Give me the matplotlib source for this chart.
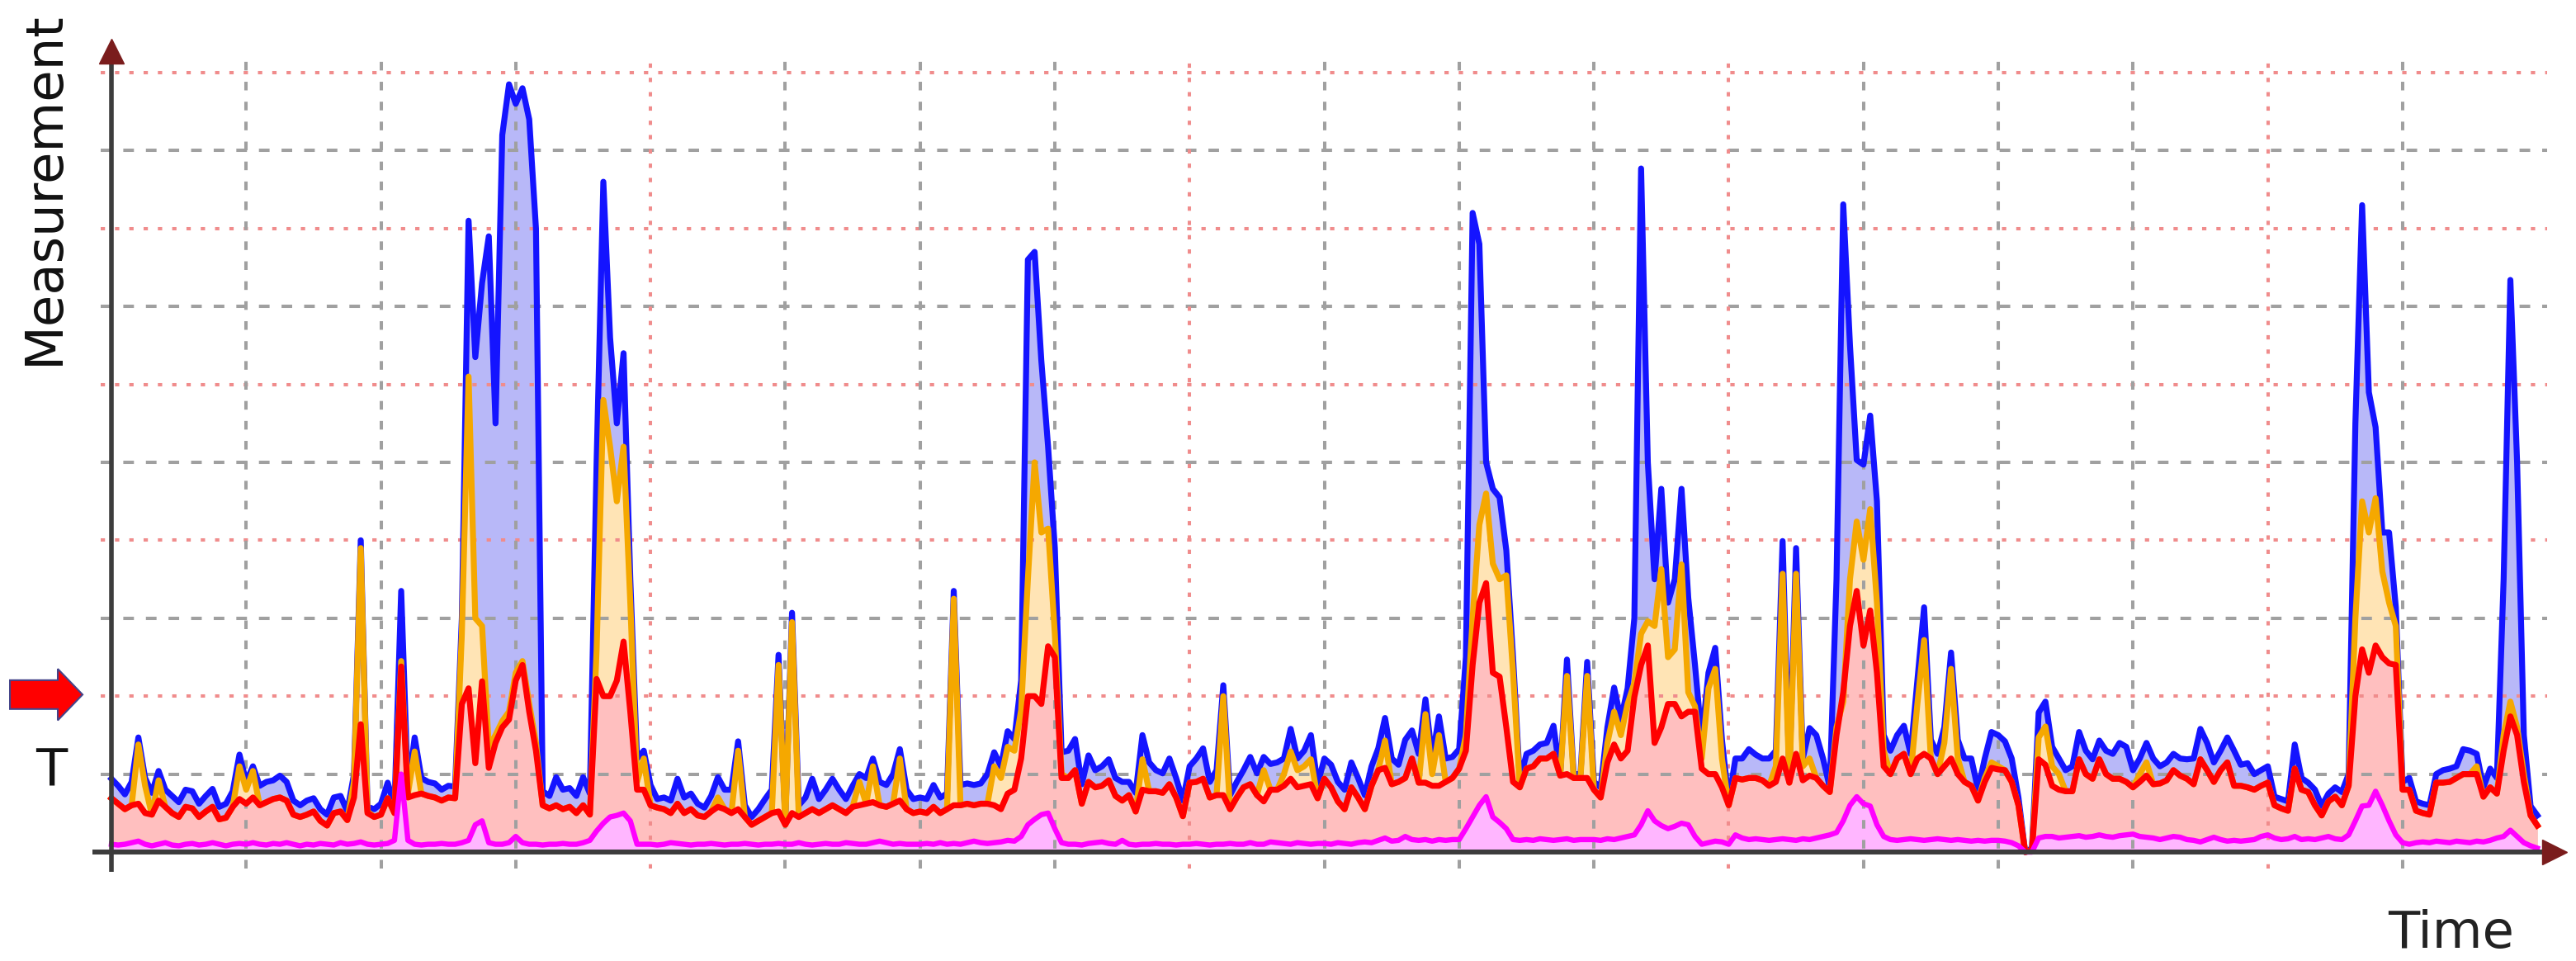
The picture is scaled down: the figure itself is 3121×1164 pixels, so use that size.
import matplotlib
matplotlib.use("Agg")
import matplotlib.pyplot as plt
import numpy as np
from matplotlib.patches import FancyArrow

# Measurement series sampled every 0.5 time units, t = 0 .. 180
blue = [
    0.94, 0.85, 0.74, 0.90, 1.47, 0.95, 0.76, 1.04, 0.80, 0.72, 0.64, 0.80, 0.78, 0.62, 0.72, 0.81, 0.58, 0.62, 0.78, 1.25,
    0.90, 1.10, 0.85, 0.90, 0.92, 0.98, 0.90, 0.66, 0.60, 0.66, 0.69, 0.55, 0.48, 0.70, 0.72, 0.52, 1.00, 4.00, 0.58, 0.55,
    0.62, 0.89, 0.59, 3.35, 0.80, 1.47, 0.95, 0.90, 0.88, 0.80, 0.85, 0.84, 3.00, 8.10, 6.35, 7.30, 7.90, 5.50, 9.20, 9.85,
    9.60, 9.80, 9.40, 8.00, 0.78, 0.72, 0.96, 0.80, 0.82, 0.72, 0.96, 0.75, 5.00, 8.60, 6.60, 5.50, 6.40, 3.50, 1.20, 1.30,
    0.86, 0.68, 0.70, 0.66, 0.94, 0.70, 0.75, 0.62, 0.57, 0.72, 0.96, 0.80, 0.80, 1.42, 0.60, 0.45, 0.55, 0.68, 0.80, 2.53,
    0.40, 3.07, 0.60, 0.70, 0.94, 0.68, 0.80, 0.94, 0.80, 0.68, 0.85, 1.00, 0.95, 1.20, 0.90, 0.86, 1.00, 1.32, 0.80, 0.68,
    0.70, 0.68, 0.86, 0.70, 0.75, 3.35, 0.86, 0.88, 0.86, 0.88, 1.00, 1.28, 1.10, 1.55, 1.45, 2.20, 7.60, 7.70, 6.30, 5.20,
    3.90, 1.28, 1.30, 1.45, 0.87, 1.24, 1.05, 1.10, 1.19, 0.95, 0.90, 0.90, 0.76, 1.50, 1.15, 1.05, 1.01, 1.20, 0.95, 0.66,
    1.10, 1.20, 1.33, 0.90, 1.05, 2.14, 0.73, 0.90, 1.05, 1.22, 1.01, 1.22, 1.13, 1.15, 1.20, 1.58, 1.20, 1.30, 1.50, 0.87,
    1.20, 1.12, 0.90, 0.80, 1.15, 0.95, 0.73, 1.10, 1.33, 1.72, 1.20, 1.12, 1.44, 1.56, 1.26, 1.96, 1.20, 1.74, 1.20, 1.22,
    1.32, 2.50, 8.20, 7.80, 5.00, 4.66, 4.55, 3.87, 2.50, 0.92, 1.26, 1.30, 1.38, 1.40, 1.62, 1.00, 2.47, 1.00, 1.00, 2.44,
    0.90, 0.83, 1.60, 2.11, 1.70, 2.10, 3.00, 8.77, 5.00, 3.50, 4.66, 3.20, 3.50, 4.66, 3.26, 2.40, 1.44, 2.30, 2.62, 1.44,
    0.65, 1.20, 1.20, 1.32, 1.25, 1.20, 1.20, 1.30, 3.99, 1.00, 3.90, 1.20, 1.59, 1.50, 1.20, 0.83, 3.50, 8.31, 6.50, 5.03,
    4.97, 5.60, 4.50, 1.50, 1.30, 1.50, 1.62, 1.26, 2.20, 3.14, 1.44, 1.26, 1.60, 2.56, 1.44, 1.20, 1.20, 0.80, 1.20, 1.54,
    1.50, 1.42, 1.20, 0.70, 0.00, 0.05, 1.79, 1.93, 1.35, 1.20, 1.05, 1.10, 1.54, 1.30, 1.19, 1.43, 1.30, 1.26, 1.40, 1.35,
    1.05, 1.20, 1.40, 1.20, 1.10, 1.15, 1.26, 1.20, 1.19, 1.20, 1.58, 1.40, 1.15, 1.30, 1.47, 1.30, 1.12, 1.14, 1.00, 1.05,
    1.10, 0.71, 0.68, 0.65, 1.38, 0.95, 0.89, 0.80, 0.59, 0.75, 0.83, 0.77, 1.00, 5.50, 8.30, 5.90, 5.45, 4.10, 4.10, 3.14,
    0.90, 0.95, 0.65, 0.62, 0.60, 1.00, 1.05, 1.07, 1.10, 1.32, 1.30, 1.26, 0.83, 1.07, 0.95, 3.50, 7.34, 5.00, 1.50, 0.59,
    0.47,
]
orange = [
    0.69, 0.62, 0.55, 0.60, 1.38, 0.85, 0.48, 0.92, 0.58, 0.50, 0.45, 0.58, 0.56, 0.45, 0.52, 0.58, 0.42, 0.44, 0.58, 1.10,
    0.80, 1.04, 0.60, 0.64, 0.68, 0.70, 0.66, 0.48, 0.45, 0.48, 0.52, 0.40, 0.34, 0.50, 0.52, 0.41, 0.90, 3.90, 0.52, 0.45,
    0.48, 0.69, 0.50, 2.45, 0.75, 1.29, 0.75, 0.72, 0.70, 0.66, 0.70, 0.69, 2.80, 6.10, 3.00, 2.90, 1.35, 1.50, 1.68, 1.80,
    2.30, 2.45, 1.90, 1.40, 0.60, 0.56, 0.60, 0.55, 0.58, 0.50, 0.60, 0.48, 2.60, 5.80, 5.20, 4.50, 5.20, 3.20, 0.90, 1.20,
    0.60, 0.57, 0.55, 0.50, 0.62, 0.50, 0.55, 0.47, 0.45, 0.52, 0.70, 0.55, 0.50, 1.30, 0.45, 0.35, 0.40, 0.45, 0.50, 2.40,
    0.35, 2.95, 0.45, 0.50, 0.55, 0.50, 0.55, 0.60, 0.55, 0.50, 0.58, 0.90, 0.62, 1.10, 0.60, 0.58, 0.62, 1.20, 0.55, 0.50,
    0.52, 0.50, 0.58, 0.50, 0.55, 3.25, 0.60, 0.62, 0.60, 0.62, 0.62, 1.10, 0.95, 1.35, 1.30, 1.82, 3.50, 5.00, 4.10, 4.15,
    2.80, 1.00, 0.95, 1.05, 0.62, 0.90, 0.83, 0.85, 0.92, 0.72, 0.66, 0.73, 0.52, 1.19, 0.78, 0.78, 0.76, 0.87, 0.70, 0.46,
    0.89, 0.90, 0.94, 0.70, 0.73, 2.00, 0.55, 0.70, 0.83, 0.87, 0.73, 1.05, 0.80, 0.80, 1.00, 1.29, 1.05, 1.10, 1.19, 0.69,
    0.94, 0.83, 0.65, 0.55, 0.83, 0.70, 0.55, 0.85, 1.05, 1.43, 0.87, 0.90, 0.95, 1.20, 0.89, 1.77, 1.00, 1.50, 0.90, 0.95,
    1.07, 1.50, 3.00, 4.20, 4.60, 3.70, 3.50, 3.55, 2.30, 0.83, 1.07, 1.10, 1.20, 1.20, 1.26, 0.98, 2.26, 0.95, 0.95, 2.26,
    0.80, 0.70, 1.40, 1.80, 1.50, 1.90, 2.17, 2.80, 2.96, 2.90, 3.63, 2.50, 2.60, 3.69, 2.05, 1.87, 1.20, 2.10, 2.35, 1.20,
    0.60, 0.95, 0.93, 0.95, 0.95, 0.92, 0.85, 1.10, 3.57, 0.89, 3.57, 1.10, 1.20, 0.95, 0.85, 0.77, 1.60, 1.93, 3.50, 4.24,
    3.75, 4.40, 3.20, 1.30, 1.00, 1.20, 1.26, 1.00, 1.90, 2.72, 1.20, 1.00, 1.40, 2.35, 1.20, 0.90, 0.85, 0.66, 0.95, 1.15,
    1.10, 1.05, 0.90, 0.60, 0.00, 0.02, 1.47, 1.61, 1.10, 1.00, 0.78, 0.78, 1.19, 1.00, 0.94, 1.19, 1.00, 0.94, 0.94, 0.90,
    0.83, 1.00, 1.15, 0.87, 0.88, 0.92, 1.05, 0.98, 0.94, 0.87, 1.19, 1.05, 0.90, 1.05, 1.15, 0.85, 0.85, 0.83, 0.80, 0.85,
    0.89, 0.60, 0.56, 0.53, 1.07, 0.80, 0.77, 0.60, 0.47, 0.65, 0.71, 0.60, 0.85, 3.00, 4.50, 4.10, 4.54, 3.60, 3.20, 2.90,
    0.80, 0.80, 0.53, 0.50, 0.48, 0.89, 0.89, 0.90, 0.95, 1.00, 1.00, 1.10, 0.71, 0.83, 0.75, 1.50, 1.93, 1.60, 1.00, 0.47,
    0.34,
]
red = [
    0.69, 0.62, 0.55, 0.60, 0.62, 0.50, 0.48, 0.66, 0.58, 0.50, 0.45, 0.58, 0.56, 0.45, 0.52, 0.58, 0.42, 0.44, 0.58, 0.68,
    0.62, 0.70, 0.60, 0.64, 0.68, 0.70, 0.66, 0.48, 0.45, 0.48, 0.52, 0.40, 0.34, 0.50, 0.52, 0.41, 0.70, 1.64, 0.50, 0.45,
    0.48, 0.69, 0.50, 2.38, 0.70, 0.73, 0.75, 0.72, 0.70, 0.66, 0.70, 0.69, 1.90, 2.10, 1.14, 2.19, 1.08, 1.40, 1.60, 1.70,
    2.20, 2.40, 1.80, 1.30, 0.60, 0.56, 0.60, 0.55, 0.58, 0.50, 0.60, 0.48, 2.22, 2.00, 2.00, 2.20, 2.70, 1.80, 0.80, 0.80,
    0.60, 0.57, 0.55, 0.50, 0.62, 0.50, 0.55, 0.47, 0.45, 0.52, 0.58, 0.55, 0.50, 0.55, 0.45, 0.35, 0.40, 0.45, 0.50, 0.52,
    0.35, 0.50, 0.45, 0.50, 0.55, 0.50, 0.55, 0.60, 0.55, 0.50, 0.58, 0.60, 0.62, 0.64, 0.60, 0.58, 0.62, 0.66, 0.55, 0.50,
    0.52, 0.50, 0.58, 0.50, 0.55, 0.60, 0.60, 0.62, 0.60, 0.62, 0.62, 0.60, 0.55, 0.75, 0.80, 1.20, 2.00, 2.00, 1.90, 2.64,
    2.50, 0.95, 0.95, 1.05, 0.62, 0.90, 0.83, 0.85, 0.92, 0.72, 0.66, 0.73, 0.52, 0.80, 0.78, 0.78, 0.76, 0.87, 0.70, 0.46,
    0.89, 0.90, 0.94, 0.70, 0.73, 0.73, 0.55, 0.70, 0.83, 0.87, 0.73, 0.65, 0.80, 0.80, 0.85, 0.94, 0.83, 0.85, 0.87, 0.69,
    0.94, 0.83, 0.65, 0.55, 0.83, 0.70, 0.55, 0.85, 1.05, 1.08, 0.87, 0.90, 0.95, 1.20, 0.89, 0.89, 0.85, 0.85, 0.90, 0.95,
    1.07, 1.30, 2.40, 3.20, 3.45, 2.30, 2.25, 1.60, 0.90, 0.83, 1.07, 1.10, 1.20, 1.20, 1.26, 0.98, 1.00, 0.95, 0.95, 0.95,
    0.80, 0.70, 1.15, 1.38, 1.20, 1.30, 1.99, 2.40, 2.65, 1.40, 1.60, 1.90, 1.90, 1.74, 1.80, 1.80, 1.07, 1.00, 1.00, 0.83,
    0.60, 0.95, 0.93, 0.95, 0.95, 0.92, 0.85, 0.90, 1.20, 0.89, 1.26, 0.92, 0.98, 0.95, 0.85, 0.77, 1.50, 2.05, 2.90, 3.35,
    2.65, 3.10, 2.30, 1.10, 1.00, 1.20, 1.26, 1.00, 1.20, 1.26, 1.20, 1.00, 1.10, 1.20, 1.00, 0.90, 0.85, 0.66, 0.90, 1.08,
    1.06, 1.05, 0.90, 0.60, 0.00, 0.02, 1.19, 1.12, 0.85, 0.80, 0.78, 0.78, 1.19, 1.00, 0.94, 1.19, 1.00, 0.94, 0.94, 0.90,
    0.83, 0.90, 0.98, 0.87, 0.88, 0.92, 1.05, 0.98, 0.94, 0.87, 1.19, 1.05, 0.90, 1.05, 1.15, 0.85, 0.85, 0.83, 0.80, 0.85,
    0.89, 0.60, 0.56, 0.53, 1.07, 0.80, 0.77, 0.60, 0.47, 0.65, 0.71, 0.60, 0.85, 2.00, 2.60, 2.30, 2.65, 2.50, 2.42, 2.40,
    0.80, 0.80, 0.53, 0.50, 0.48, 0.89, 0.89, 0.90, 0.95, 1.00, 1.00, 1.00, 0.71, 0.83, 0.75, 1.30, 1.74, 1.50, 0.90, 0.47,
    0.34,
]
magenta = [
    0.10, 0.09, 0.10, 0.12, 0.14, 0.10, 0.08, 0.10, 0.12, 0.09, 0.08, 0.10, 0.11, 0.09, 0.10, 0.12, 0.10, 0.08, 0.10, 0.11,
    0.10, 0.12, 0.10, 0.09, 0.11, 0.10, 0.12, 0.10, 0.08, 0.10, 0.09, 0.11, 0.10, 0.09, 0.12, 0.10, 0.11, 0.13, 0.10, 0.09,
    0.10, 0.11, 0.15, 1.00, 0.15, 0.10, 0.09, 0.10, 0.10, 0.11, 0.10, 0.10, 0.12, 0.15, 0.35, 0.40, 0.12, 0.10, 0.10, 0.12,
    0.20, 0.12, 0.10, 0.10, 0.09, 0.10, 0.10, 0.11, 0.10, 0.10, 0.12, 0.15, 0.27, 0.37, 0.45, 0.47, 0.50, 0.40, 0.10, 0.10,
    0.10, 0.09, 0.10, 0.12, 0.11, 0.10, 0.09, 0.10, 0.10, 0.11, 0.10, 0.09, 0.10, 0.10, 0.11, 0.10, 0.09, 0.10, 0.10, 0.11,
    0.10, 0.10, 0.12, 0.10, 0.09, 0.10, 0.11, 0.10, 0.10, 0.12, 0.11, 0.10, 0.10, 0.12, 0.14, 0.12, 0.10, 0.11, 0.10, 0.10,
    0.10, 0.11, 0.10, 0.12, 0.10, 0.11, 0.10, 0.12, 0.14, 0.12, 0.11, 0.12, 0.13, 0.15, 0.14, 0.20, 0.35, 0.42, 0.48, 0.50,
    0.30, 0.12, 0.10, 0.10, 0.09, 0.11, 0.12, 0.13, 0.11, 0.10, 0.15, 0.10, 0.09, 0.10, 0.10, 0.11, 0.10, 0.10, 0.09, 0.10,
    0.10, 0.11, 0.10, 0.09, 0.10, 0.10, 0.11, 0.10, 0.10, 0.12, 0.10, 0.10, 0.13, 0.12, 0.11, 0.10, 0.12, 0.11, 0.10, 0.11,
    0.11, 0.10, 0.12, 0.11, 0.10, 0.12, 0.13, 0.12, 0.15, 0.18, 0.14, 0.15, 0.20, 0.16, 0.15, 0.16, 0.14, 0.16, 0.15, 0.16,
    0.16, 0.30, 0.45, 0.60, 0.71, 0.45, 0.38, 0.30, 0.16, 0.15, 0.16, 0.15, 0.17, 0.16, 0.15, 0.16, 0.17, 0.15, 0.16, 0.16,
    0.16, 0.15, 0.17, 0.16, 0.18, 0.20, 0.22, 0.35, 0.53, 0.40, 0.34, 0.30, 0.33, 0.37, 0.35, 0.20, 0.10, 0.12, 0.14, 0.13,
    0.10, 0.22, 0.18, 0.16, 0.17, 0.16, 0.15, 0.16, 0.17, 0.16, 0.15, 0.17, 0.16, 0.18, 0.20, 0.22, 0.25, 0.40, 0.60, 0.71,
    0.62, 0.59, 0.35, 0.20, 0.16, 0.15, 0.16, 0.17, 0.16, 0.15, 0.16, 0.17, 0.16, 0.15, 0.16, 0.15, 0.14, 0.15, 0.14, 0.15,
    0.15, 0.14, 0.12, 0.08, 0.00, 0.00, 0.18, 0.20, 0.20, 0.18, 0.19, 0.20, 0.21, 0.19, 0.20, 0.22, 0.20, 0.19, 0.21, 0.22,
    0.23, 0.20, 0.19, 0.18, 0.16, 0.18, 0.20, 0.19, 0.16, 0.15, 0.13, 0.16, 0.19, 0.16, 0.14, 0.15, 0.14, 0.15, 0.16, 0.20,
    0.22, 0.18, 0.16, 0.17, 0.20, 0.16, 0.17, 0.16, 0.18, 0.20, 0.17, 0.16, 0.22, 0.40, 0.59, 0.60, 0.78, 0.60, 0.40, 0.22,
    0.12, 0.10, 0.12, 0.13, 0.12, 0.14, 0.13, 0.12, 0.14, 0.13, 0.12, 0.14, 0.13, 0.15, 0.18, 0.20, 0.28, 0.20, 0.12, 0.08,
    0.05,
]
time = np.linspace(0, 180, len(blue))

h_grid = [1, 2, 3, 4, 5, 6, 7, 8, 9, 10]
v_grid = [10, 20, 30, 40, 50, 60, 70, 80, 90, 100, 110, 120, 130, 140, 150, 160, 170]

fig = plt.figure(figsize=(31.21, 11.64), dpi=100)
ax = fig.add_axes([0, 0, 1, 1])
ax.set_xlim(-8.268, 182.87)
ax.set_ylim(-1.398, 10.932)
ax.axis("off")

# stacked-looking areas, each filled from zero and layered
ax.fill_between(time, 0, blue, color="#b8b8f8", lw=0, zorder=2)
ax.fill_between(time, 0, orange, color="#ffe4b5", lw=0, zorder=2)
ax.fill_between(time, 0, red, color="#ffbfbf", lw=0, zorder=2)
ax.fill_between(time, 0, magenta, color="#ffb6ff", lw=0, zorder=2)

# grid
for v in h_grid:
    if v % 2 == 0:
        ax.plot([-0.8, 180.7], [v, v], color="#f08c8c", lw=2.9, ls=(0, (1.3, 3.0)), zorder=3)
    else:
        ax.plot([-0.8, 180.7], [v, v], color="#a0a0a0", lw=2.9, ls=(0, (3.2, 3.6)), zorder=3)
for t in v_grid:
    if t % 40 == 0:
        ax.plot([t, t], [-0.21, 10.16], color="#f08c8c", lw=2.9, ls=(0, (1.3, 3.0)), zorder=3)
    else:
        ax.plot([t, t], [-0.21, 10.16], color="#a0a0a0", lw=2.9, ls=(0, (2.6, 3.4)), zorder=3)

ax.plot(time, blue, color="#1414ff", lw=5.2, zorder=4)
ax.plot(time, orange, color="#f5a800", lw=5.2, zorder=5)
ax.plot(time, red, color="#ff0000", lw=5.2, zorder=6)
ax.plot(time, magenta, color="#ff00ff", lw=4.6, zorder=7)

# axes with arrow heads
ax.plot([0, 0], [-0.25, 10.14], color="#3c3c3c", lw=4.0, zorder=8, solid_capstyle="butt")
ax.plot([-1.41, 180.55], [0, 0], color="#3c3c3c", lw=4.3, zorder=8, solid_capstyle="butt")
ax.plot([0], [10.28], marker="^", ms=22, color="#7a1c1c", zorder=9)
ax.plot([181.28], [0], marker=">", ms=22, color="#7a1c1c", zorder=9)

ax.text(-4.96, 8.52, "Measurement", rotation=90, ha="center", va="center", fontsize=45, color="#111111")
ax.text(173.6, -1.23, "Time", ha="center", va="baseline", fontsize=45, color="#222222")
ax.text(-4.47, 1.03, "T", ha="center", va="center", fontsize=45, color="#111111")

ax.add_patch(FancyArrow(-7.53, 2.02, 5.39, 0, width=0.37, head_width=0.66, head_length=1.84,
                        length_includes_head=True, fc="#ff0000", ec="#44448a", lw=1.5, zorder=9))

fig.savefig("out.png", dpi=100)
